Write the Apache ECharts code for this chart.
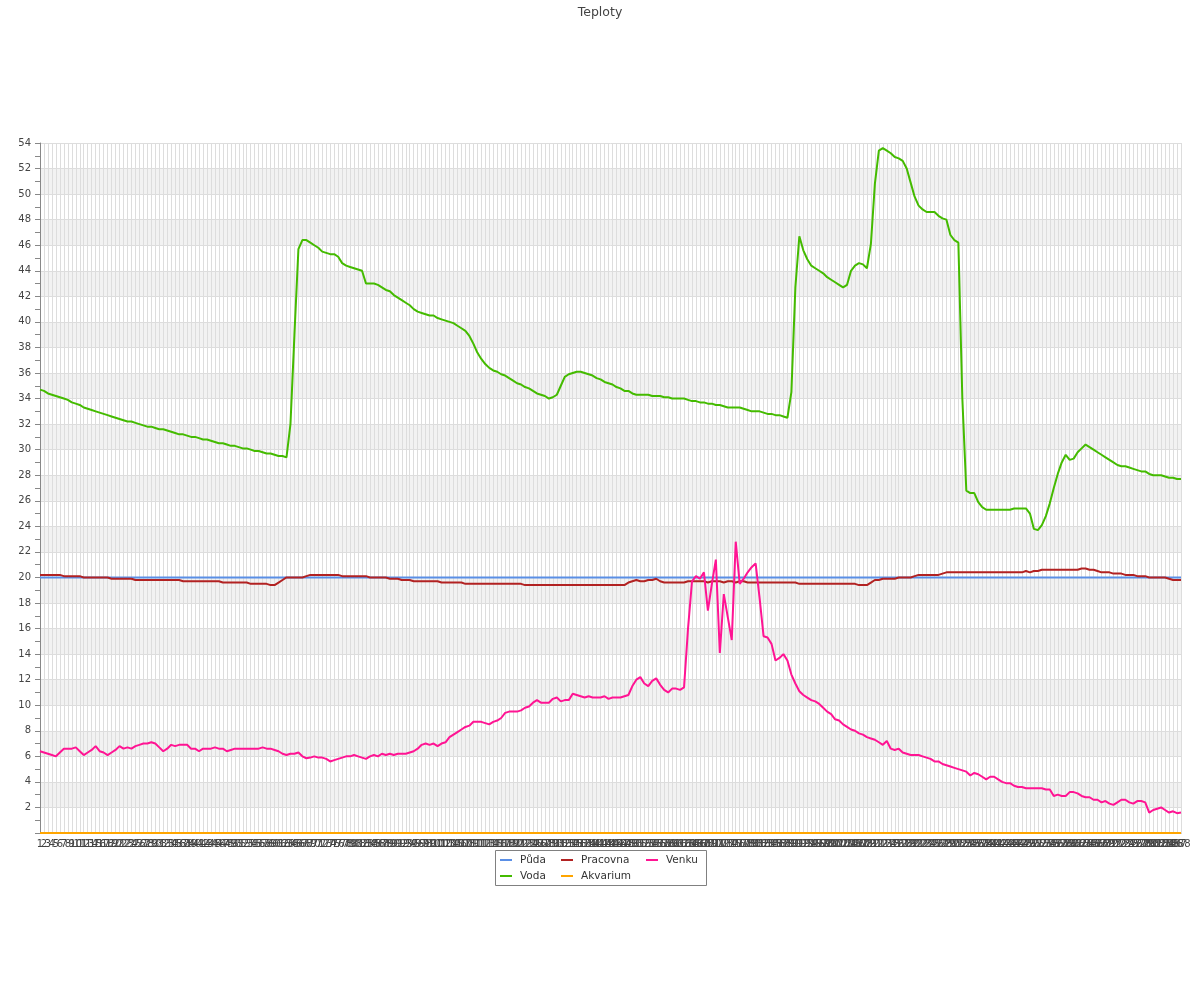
<!DOCTYPE html>
<html>
<head>
<meta charset="utf-8">
<script src="https://cdn.jsdelivr.net/npm/echarts@6/dist/echarts.min.js"></script>
<style>html,body{margin:0;padding:0;background:#fff}#c{width:1200px;height:1000px}</style>
</head>
<body>
<div id="c"></div>
<script>
var chartTitle = 'Teploty';
var categories = [];
for (var k = 1; k <= 288; k++) categories.push(String(k));
var yTicks = {min: 0, max: 54, step: 2};

var puda = [
20,20,20,20,20,20,20,20,20,20,20,20,20,20,20,20,20,20,20,20,20,20,20,20,
20,20,20,20,20,20,20,20,20,20,20,20,20,20,20,20,20,20,20,20,20,20,20,20,
20,20,20,20,20,20,20,20,20,20,20,20,20,20,20,20,20,20,20,20,20,20,20,20,
20,20,20,20,20,20,20,20,20,20,20,20,20,20,20,20,20,20,20,20,20,20,20,20,
20,20,20,20,20,20,20,20,20,20,20,20,20,20,20,20,20,20,20,20,20,20,20,20,
20,20,20,20,20,20,20,20,20,20,20,20,20,20,20,20,20,20,20,20,20,20,20,20,
20,20,20,20,20,20,20,20,20,20,20,20,20,20,20,20,20,20,20,20,20,20,20,20,
20,20,20,20,20,20,20,20,20,20,20,20,20,20,20,20,20,20,20,20,20,20,20,20,
20,20,20,20,20,20,20,20,20,20,20,20,20,20,20,20,20,20,20,20,20,20,20,20,
20,20,20,20,20,20,20,20,20,20,20,20,20,20,20,20,20,20,20,20,20,20,20,20,
20,20,20,20,20,20,20,20,20,20,20,20,20,20,20,20,20,20,20,20,20,20,20,20,
20,20,20,20,20,20,20,20,20,20,20,20,20,20,20,20,20,20,20,20,20,20,20,20
];

var voda = [
34.7,34.6,34.4,34.3,34.2,34.1,34.0,33.9,33.7,33.6,
33.5,33.3,33.2,33.1,33.0,32.9,32.8,32.7,32.6,32.5,
32.4,32.3,32.2,32.2,32.1,32.0,31.9,31.8,31.8,31.7,
31.6,31.6,31.5,31.4,31.3,31.2,31.2,31.1,31.0,31.0,
30.9,30.8,30.8,30.7,30.6,30.5,30.5,30.4,30.3,30.3,
30.2,30.1,30.1,30.0,29.9,29.9,29.8,29.7,29.7,29.6,
29.5,29.5,29.4,32.0,39.0,45.7,46.4,46.4,46.2,46.0,
45.8,45.5,45.4,45.3,45.3,45.1,44.6,44.4,44.3,44.2,
44.1,44.0,43.0,43.0,43.0,42.9,42.7,42.5,42.4,42.1,
41.9,41.7,41.5,41.3,41.0,40.8,40.7,40.6,40.5,40.5,
40.3,40.2,40.1,40.0,39.9,39.7,39.5,39.3,38.9,38.3,
37.6,37.1,36.7,36.4,36.2,36.1,35.9,35.8,35.6,35.4,
35.2,35.1,34.9,34.8,34.6,34.4,34.3,34.2,34.0,34.1,
34.3,35.0,35.7,35.9,36.0,36.1,36.1,36.0,35.9,35.8,
35.6,35.5,35.3,35.2,35.1,34.9,34.8,34.6,34.6,34.4,
34.3,34.3,34.3,34.3,34.2,34.2,34.2,34.1,34.1,34.0,
34.0,34.0,34.0,33.9,33.8,33.8,33.7,33.7,33.6,33.6,
33.5,33.5,33.4,33.3,33.3,33.3,33.3,33.2,33.1,33.0,
33.0,33.0,32.9,32.8,32.8,32.7,32.7,32.6,32.5,34.5,
42.7,46.7,45.6,44.9,44.4,44.2,44.0,43.8,43.5,43.3,
43.1,42.9,42.7,42.9,44.0,44.4,44.6,44.5,44.2,46.1,
50.8,53.4,53.6,53.4,53.2,52.9,52.8,52.6,52.0,50.9,
49.8,49.1,48.8,48.6,48.6,48.6,48.3,48.1,48.0,46.8,
46.4,46.2,34.0,26.8,26.6,26.6,25.9,25.5,25.3,25.3,
25.3,25.3,25.3,25.3,25.3,25.4,25.4,25.4,25.4,25.0,
23.8,23.7,24.1,24.8,25.8,27.0,28.1,29.0,29.6,29.2,
29.3,29.8,30.1,30.4,30.2,30.0,29.8,29.6,29.4,29.2,
29.0,28.8,28.7,28.7,28.6,28.5,28.4,28.3,28.3,28.1,
28.0,28.0,28.0,27.9,27.8,27.8,27.7,27.7
];

var pracovna = [
20.2,20.2,20.2,20.2,20.2,20.2,20.1,20.1,20.1,20.1,
20.1,20.0,20.0,20.0,20.0,20.0,20.0,20.0,19.9,19.9,
19.9,19.9,19.9,19.9,19.8,19.8,19.8,19.8,19.8,19.8,
19.8,19.8,19.8,19.8,19.8,19.8,19.7,19.7,19.7,19.7,
19.7,19.7,19.7,19.7,19.7,19.7,19.6,19.6,19.6,19.6,
19.6,19.6,19.6,19.5,19.5,19.5,19.5,19.5,19.4,19.4,
19.6,19.8,20.0,20.0,20.0,20.0,20.0,20.1,20.2,20.2,
20.2,20.2,20.2,20.2,20.2,20.2,20.1,20.1,20.1,20.1,
20.1,20.1,20.1,20.0,20.0,20.0,20.0,20.0,19.9,19.9,
19.9,19.8,19.8,19.8,19.7,19.7,19.7,19.7,19.7,19.7,
19.7,19.6,19.6,19.6,19.6,19.6,19.6,19.5,19.5,19.5,
19.5,19.5,19.5,19.5,19.5,19.5,19.5,19.5,19.5,19.5,
19.5,19.5,19.4,19.4,19.4,19.4,19.4,19.4,19.4,19.4,
19.4,19.4,19.4,19.4,19.4,19.4,19.4,19.4,19.4,19.4,
19.4,19.4,19.4,19.4,19.4,19.4,19.4,19.4,19.6,19.7,
19.8,19.7,19.7,19.8,19.8,19.9,19.7,19.6,19.6,19.6,
19.6,19.6,19.6,19.7,19.7,19.7,19.7,19.7,19.6,19.7,
19.7,19.7,19.6,19.7,19.7,19.6,19.7,19.7,19.6,19.6,
19.6,19.6,19.6,19.6,19.6,19.6,19.6,19.6,19.6,19.6,
19.6,19.5,19.5,19.5,19.5,19.5,19.5,19.5,19.5,19.5,
19.5,19.5,19.5,19.5,19.5,19.5,19.4,19.4,19.4,19.6,
19.8,19.8,19.9,19.9,19.9,19.9,20.0,20.0,20.0,20.0,
20.1,20.2,20.2,20.2,20.2,20.2,20.2,20.3,20.4,20.4,
20.4,20.4,20.4,20.4,20.4,20.4,20.4,20.4,20.4,20.4,
20.4,20.4,20.4,20.4,20.4,20.4,20.4,20.4,20.5,20.4,
20.5,20.5,20.6,20.6,20.6,20.6,20.6,20.6,20.6,20.6,
20.6,20.6,20.7,20.7,20.6,20.6,20.5,20.4,20.4,20.4,
20.3,20.3,20.3,20.2,20.2,20.2,20.1,20.1,20.1,20.0,
20.0,20.0,20.0,20.0,19.9,19.8,19.8,19.8
];

var akvarium = [
0,0,0,0,0,0,0,0,0,0,0,0,0,0,0,0,0,0,0,0,0,0,0,0,
0,0,0,0,0,0,0,0,0,0,0,0,0,0,0,0,0,0,0,0,0,0,0,0,
0,0,0,0,0,0,0,0,0,0,0,0,0,0,0,0,0,0,0,0,0,0,0,0,
0,0,0,0,0,0,0,0,0,0,0,0,0,0,0,0,0,0,0,0,0,0,0,0,
0,0,0,0,0,0,0,0,0,0,0,0,0,0,0,0,0,0,0,0,0,0,0,0,
0,0,0,0,0,0,0,0,0,0,0,0,0,0,0,0,0,0,0,0,0,0,0,0,
0,0,0,0,0,0,0,0,0,0,0,0,0,0,0,0,0,0,0,0,0,0,0,0,
0,0,0,0,0,0,0,0,0,0,0,0,0,0,0,0,0,0,0,0,0,0,0,0,
0,0,0,0,0,0,0,0,0,0,0,0,0,0,0,0,0,0,0,0,0,0,0,0,
0,0,0,0,0,0,0,0,0,0,0,0,0,0,0,0,0,0,0,0,0,0,0,0,
0,0,0,0,0,0,0,0,0,0,0,0,0,0,0,0,0,0,0,0,0,0,0,0,
0,0,0,0,0,0,0,0,0,0,0,0,0,0,0,0,0,0,0,0,0,0,0,0
];

var venku = [
6.4,6.3,6.2,6.1,6.0,6.3,6.6,6.6,6.6,6.7,
6.4,6.1,6.3,6.5,6.8,6.4,6.3,6.1,6.3,6.5,
6.8,6.6,6.7,6.6,6.8,6.9,7.0,7.0,7.1,7.0,
6.7,6.4,6.6,6.9,6.8,6.9,6.9,6.9,6.6,6.6,
6.4,6.6,6.6,6.6,6.7,6.6,6.6,6.4,6.5,6.6,
6.6,6.6,6.6,6.6,6.6,6.6,6.7,6.6,6.6,6.5,
6.4,6.2,6.1,6.2,6.2,6.3,6.0,5.85,5.9,6.0,
5.9,5.9,5.8,5.6,5.7,5.8,5.9,6.0,6.0,6.1,
6.0,5.9,5.8,6.0,6.1,6.0,6.2,6.1,6.2,6.1,
6.2,6.2,6.2,6.3,6.4,6.6,6.9,7.0,6.9,7.0,
6.8,7.0,7.1,7.5,7.7,7.9,8.1,8.3,8.4,8.7,
8.7,8.7,8.6,8.5,8.7,8.8,9.0,9.4,9.5,9.5,
9.5,9.6,9.8,9.9,10.2,10.4,10.2,10.2,10.2,10.5,
10.6,10.3,10.4,10.4,10.9,10.8,10.7,10.6,10.7,10.6,
10.6,10.6,10.7,10.5,10.6,10.6,10.6,10.7,10.8,11.5,
12.0,12.2,11.7,11.5,11.9,12.1,11.6,11.2,11.0,11.3,
11.3,11.2,11.4,16.0,19.7,20.1,19.9,20.4,17.4,19.5,
21.4,14.1,18.7,16.9,15.1,22.8,19.5,19.9,20.4,20.8,
21.1,18.4,15.4,15.3,14.8,13.5,13.7,14.0,13.5,12.4,
11.7,11.1,10.8,10.6,10.4,10.3,10.1,9.8,9.5,9.3,
8.9,8.8,8.5,8.3,8.1,8.0,7.8,7.7,7.5,7.4,
7.3,7.1,6.9,7.2,6.6,6.5,6.6,6.3,6.2,6.1,
6.1,6.1,6.0,5.9,5.8,5.6,5.6,5.4,5.3,5.2,
5.1,5.0,4.9,4.8,4.5,4.7,4.6,4.4,4.2,4.4,
4.4,4.2,4.0,3.9,3.9,3.7,3.6,3.6,3.5,3.5,
3.5,3.5,3.5,3.4,3.4,2.9,3.0,2.9,2.9,3.2,
3.2,3.1,2.9,2.8,2.8,2.6,2.6,2.4,2.5,2.3,
2.2,2.4,2.6,2.6,2.4,2.3,2.5,2.5,2.4,1.6,
1.8,1.9,2.0,1.8,1.6,1.7,1.55,1.6
];

var seriesNames = ['Půda', 'Voda', 'Pracovna', 'Akvarium', 'Venku'];
var seriesColors = ['#5a8fe6', '#44bb00', '#b22222', '#ffa500', '#ff1493'];
var seriesData = [puda, voda, pracovna, akvarium, venku];

// legend cell layout (icon left x, row center y)
var legendCells = {
  'Půda': [500, 860], 'Pracovna': [561, 860], 'Venku': [646, 860],
  'Voda': [500, 876], 'Akvarium': [561, 876]
};

var legends = seriesNames.map(function (n) {
  var c = legendCells[n];
  return {
    show: true, data: [n], left: c[0], top: c[1] - 7,
    icon: 'rect', itemWidth: 12, itemHeight: 2, itemGap: 0, padding: 0,
    selectedMode: false, z: 10,
    textStyle: {fontSize: 10.5, color: '#333', padding: [0, 0, 0, 3], lineHeight: 14, fontFamily: 'DejaVu Sans'}
  };
});

var chart = echarts.init(document.getElementById('c'), null, {renderer: 'canvas'});
chart.setOption({
  animation: false,
  backgroundColor: '#ffffff',
  textStyle: {fontFamily: 'DejaVu Sans'},
  title: {
    text: chartTitle, left: 'center', top: 6, padding: 0,
    textStyle: {fontSize: 12.5, fontWeight: 'normal', color: '#444', fontFamily: 'DejaVu Sans'}
  },
  legend: legends,
  graphic: [{
    type: 'rect', z: 1, silent: true,
    shape: {x: 495.5, y: 850.5, width: 211, height: 35},
    style: {fill: '#ffffff', stroke: '#808080', lineWidth: 1}
  }],
  grid: {left: 40, right: 19, top: 143, bottom: 167, containLabel: false},
  xAxis: {
    type: 'category', data: categories, boundaryGap: false,
    axisLine: {show: true, lineStyle: {color: '#888'}},
    axisTick: {show: false},
    axisLabel: {interval: 0, fontSize: 10, color: '#444', margin: 6, hideOverlap: false},
    splitLine: {show: true, interval: 0, lineStyle: {color: '#dddddd', width: 1}}
  },
  yAxis: {
    type: 'value', min: yTicks.min, max: yTicks.max, interval: yTicks.step,
    axisLine: {show: true, lineStyle: {color: '#888'}},
    axisTick: {show: true, length: 5, lineStyle: {color: '#888'}},
    minorTick: {show: true, splitNumber: 2, length: 5, lineStyle: {color: '#888'}},
    axisLabel: {fontSize: 10, color: '#444', margin: 9, showMinLabel: false,
      formatter: function (v) { return v === 0 ? '' : String(v); }},
    splitLine: {show: true, lineStyle: {color: '#dddddd', width: 1}},
    splitArea: {show: true, areaStyle: {color: ['#ffffff', '#f2f2f2']}}
  },
  series: seriesNames.map(function (n, i) {
    return {
      name: n, type: 'line', data: seriesData[i], showSymbol: false, symbol: 'none',
      lineStyle: {width: 2, color: seriesColors[i]}, itemStyle: {color: seriesColors[i]},
      emphasis: {disabled: true}
    };
  })
});
</script>
</body>
</html>
